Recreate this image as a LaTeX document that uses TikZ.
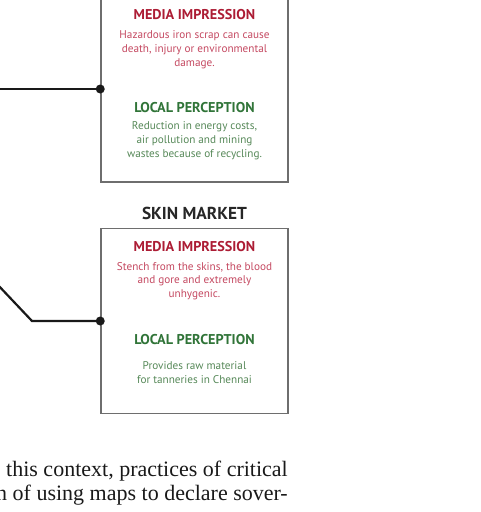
\documentclass[tikz,border=0pt]{standalone}
\usepackage{fontspec}
\setmainfont{Liberation Serif}
\newfontfamily\boxfont{PT Sans}
\usepackage{tikz}

\definecolor{mediared}{RGB}{172,28,52}
\definecolor{mediatext}{RGB}{196,72,96}
\definecolor{localgreen}{RGB}{48,116,56}
\definecolor{localtext}{RGB}{86,136,88}
\definecolor{boxgray}{RGB}{110,110,110}

\begin{document}
\begin{tikzpicture}[x=1pt,y=-1pt,
    market/.style={shape=rectangle,draw=boxgray,line width=1.5pt,minimum width=187pt,minimum height=186pt,inner sep=0pt},
    title/.style={font=\boxfont\bfseries\fontsize{17.3}{19}\selectfont,text=black!85},
    mediahead/.style={font=\boxfont\bfseries\fontsize{14.2}{16}\selectfont,text=mediared},
    mediabody/.style={font=\boxfont\fontsize{11.2}{13.8}\selectfont,text=mediatext,align=center},
    localhead/.style={font=\boxfont\bfseries\fontsize{14.2}{16}\selectfont,text=localgreen},
    localbody/.style={font=\boxfont\fontsize{11.2}{14.2}\selectfont,text=localtext,align=center},
    link/.style={draw=black!90,line width=2.2pt},
    dot/.style={circle,fill=black!90,inner sep=0pt,minimum size=9pt},
    prose/.style={font=\fontsize{22}{24}\selectfont,text=black!90,anchor=base east,inner sep=0pt}]
        \useasboundingbox (0,0) rectangle (480,512);
        \clip (0,0) rectangle (480,512);

        % scrap market
        \node[market] (scrap) at (194.5,89) {};
        \node[mediahead] (scrapmh) at (194.5,15) {MEDIA IMPRESSION};
        \node[mediabody] (scrapmb) at (194.5,49.5) {Hazardous iron scrap can cause\\death, injury or environmental\\damage.};
        \node[localhead] (scraplh) at (194.5,108) {LOCAL PERCEPTION};
        \node[localbody] (scraplb) at (194.5,141) {Reduction in energy costs,\\air pollution and mining\\wastes because of recycling.};

        % skin market
        \node[title] (skintitle) at (194.5,213) {SKIN MARKET};
        \node[market,minimum height=185pt] (skin) at (194.5,321) {};
        \node[mediahead] (skinmh) at (194.5,247) {MEDIA IMPRESSION};
        \node[mediabody] (skinmb) at (194.5,281) {Stench from the skins, the blood\\and gore and extremely\\unhygenic.};
        \node[localhead] (skinlh) at (194.5,340) {LOCAL PERCEPTION};
        \node[localbody] (skinlb) at (194.5,372.5) {Provides raw material\\for tanneries in Chennai};

        % connectors
        \coordinate (scrapin) at (-2,89);
        \coordinate (skinin) at (-3,284);
        \coordinate (skinbend) at (32,321);
        \path [link](scrapin) -- (scrap.west);
        \path [link,line join=miter](skinin) -- (skinbend) -- (skin.west);
        \node[dot] (scrapdot) at (scrap.west) {};
        \node[dot] (skindot) at (skin.west) {};

        % running text
        \node[prose] (line1) at (288,476) {this context, practices of critical};
        \node[prose] (line2) at (288,500) {n of using maps to declare sover-};
    \end{tikzpicture}
\end{document}
